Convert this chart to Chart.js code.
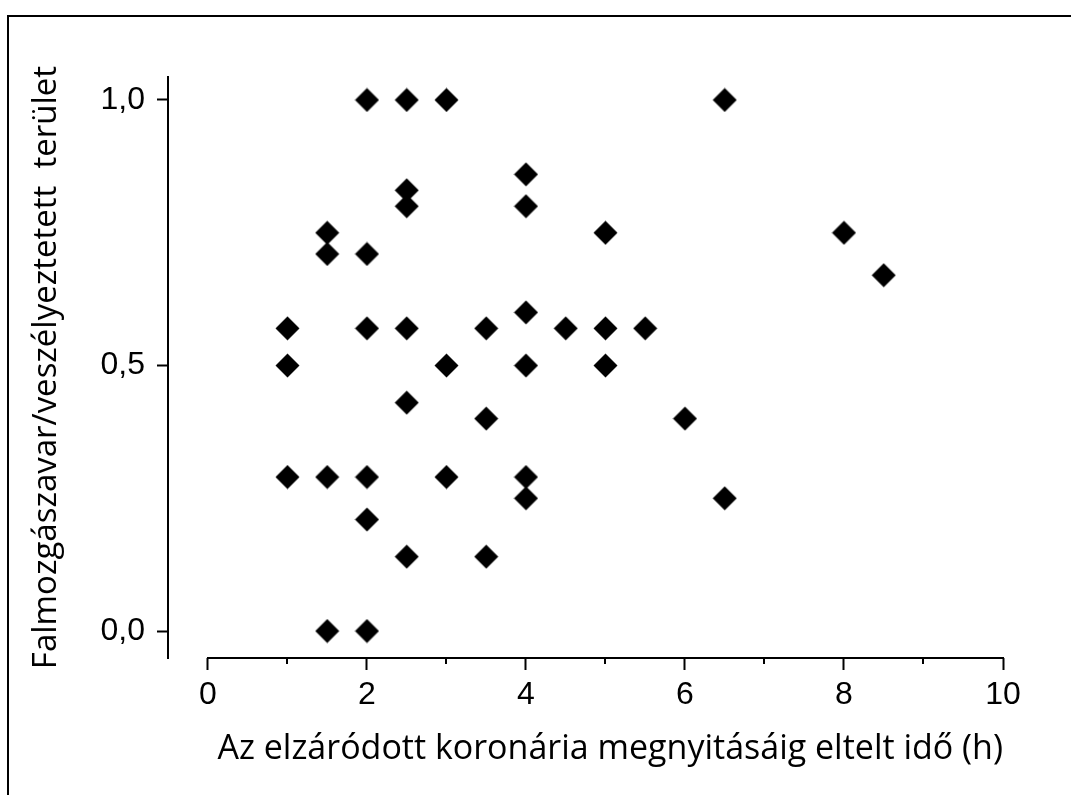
<!DOCTYPE html>
<html>
<head>
<meta charset="utf-8">
<script src="https://cdn.jsdelivr.net/npm/chart.js@4"></script>
<style>
  html, body { margin: 0; padding: 0; background: #fff; }
  #wrap { position: relative; width: 1071px; height: 795px; overflow: hidden; }
  #frame { position: absolute; left: 7px; top: 15px; width: 1200px; height: 900px;
           border-left: 2px solid #000; border-top: 2px solid #000; }
  canvas { position: absolute; left: 0; top: 0; }
</style>
</head>
<body>
<div id="wrap">
  <div id="frame"></div>
  <canvas id="c" width="1071" height="795"></canvas>
</div>
<script>
// ---- data ----
const hours = [1, 1, 1,
               1.5, 1.5, 1.5, 1.5,
               2, 2, 2, 2, 2, 2,
               2.5, 2.5, 2.5, 2.5, 2.5, 2.5,
               3, 3, 3,
               3.5, 3.5, 3.5,
               4, 4, 4, 4, 4, 4,
               4.5,
               5, 5, 5,
               5.5,
               6,
               6.5, 6.5,
               8,
               8.5];
const ratio = [0.57, 0.5, 0.29,
               0.75, 0.71, 0.29, 0,
               1, 0.71, 0.57, 0.29, 0.21, 0,
               1, 0.83, 0.8, 0.57, 0.43, 0.14,
               1, 0.5, 0.29,
               0.57, 0.4, 0.14,
               0.86, 0.8, 0.6, 0.5, 0.29, 0.25,
               0.57,
               0.75, 0.57, 0.5,
               0.57,
               0.4,
               1, 0.25,
               0.75,
               0.67];
const xTickValues = [0, 1, 2, 3, 4, 5, 6, 7, 8, 9, 10];
const xTickLabels = ['0', '', '2', '', '4', '', '6', '', '8', '', '10'];
const yTickValues = [0, 0.5, 1];
const yTickLabels = ['0,0', '0,5', '1,0'];
const xTitle = 'Az elzáródott koronária megnyitásáig eltelt idő (h)';
const yTitle = 'Falmozgászavar/veszélyeztetett  terület';

// ---- styles ----
const tickFont = { family: '"Liberation Sans", Arial, sans-serif', size: 32 };
const xTitleFont = { family: '"Open Sans", sans-serif', size: 34 };
const yTitleFont = { family: '"Open Sans", sans-serif', size: 33 };

// diamond marker
const marker = document.createElement('canvas');
marker.width = 25; marker.height = 25;
(function () {
  const m = marker.getContext('2d');
  m.fillStyle = '#000';
  m.beginPath();
  m.moveTo(12.5, 0.5); m.lineTo(24.5, 12.5); m.lineTo(12.5, 24.5); m.lineTo(0.5, 12.5);
  m.closePath(); m.fill();
})();

const points = hours.map((h, i) => ({ x: h, y: ratio[i] }));

const axisPlugin = {
  id: 'axisPlugin',
  afterDraw(chart) {
    const ctx = chart.ctx;
    const xs = chart.scales.x;
    const y0 = chart.chartArea.bottom;
    ctx.save();
    ctx.strokeStyle = '#000';
    ctx.lineWidth = 2;
    ctx.beginPath();
    ctx.moveTo(xs.getPixelForValue(xTickValues[0]) - 1, y0);
    ctx.lineTo(xs.getPixelForValue(xTickValues[xTickValues.length - 1]) + 1, y0);
    ctx.stroke();
    // minor ticks
    ctx.beginPath();
    xTickValues.forEach((v, i) => {
      if (xTickLabels[i] === '') {
        const px = Math.round(xs.getPixelForValue(v));
        ctx.moveTo(px, y0);
        ctx.lineTo(px, y0 + 6);
      }
    });
    ctx.stroke();
    ctx.restore();
  }
};

new Chart(document.getElementById('c'), {
  type: 'scatter',
  data: {
    datasets: [{
      data: points,
      pointStyle: marker,
      pointRadius: 12,
      backgroundColor: '#000',
      borderColor: '#000'
    }]
  },
  options: {
    responsive: false,
    animation: false,
    events: [],
    layout: { padding: { left: 0, top: 77, right: 68, bottom: 0 } },
    plugins: { legend: { display: false }, tooltip: { enabled: false } },
    scales: {
      x: {
        type: 'linear',
        min: -0.503,
        max: 10,
        afterBuildTicks: s => { s.ticks = xTickValues.map(v => ({ value: v })); },
        afterFit: s => { s.height = 137; },
        border: { display: false },
        grid: {
          drawOnChartArea: false,
          drawTicks: true,
          tickLength: 12,
          tickWidth: 2,
          tickColor: c => (xTickLabels[xTickValues.indexOf(c.tick.value)] !== '' ? '#000' : 'rgba(0,0,0,0)')
        },
        ticks: {
          autoSkip: false,
          maxRotation: 0,
          padding: 6,
          color: '#000',
          font: tickFont,
          callback: v => { const i = xTickValues.indexOf(v); return i >= 0 ? xTickLabels[i] : ''; }
        },
        title: {
          display: true,
          text: xTitle,
          align: 'end',
          color: '#000',
          font: xTitleFont,
          padding: { top: 0, bottom: 25 }
        }
      },
      y: {
        type: 'linear',
        min: -0.0508,
        max: 1.0433,
        afterBuildTicks: s => { s.ticks = yTickValues.map(v => ({ value: v })); },
        afterFit: s => { s.width = 168; },
        border: { display: true, color: '#000', width: 2 },
        grid: {
          drawOnChartArea: false,
          drawTicks: true,
          tickLength: 11,
          tickWidth: 2,
          tickColor: '#000'
        },
        ticks: {
          padding: 12,
          color: '#000',
          font: tickFont,
          callback: v => { const i = yTickValues.indexOf(v); return i >= 0 ? yTickLabels[i] : ''; }
        },
        title: {
          display: true,
          text: yTitle,
          color: '#000',
          font: yTitleFont,
          padding: { top: 27, bottom: 0 }
        }
      }
    }
  },
  plugins: [axisPlugin]
});
</script>
</body>
</html>
